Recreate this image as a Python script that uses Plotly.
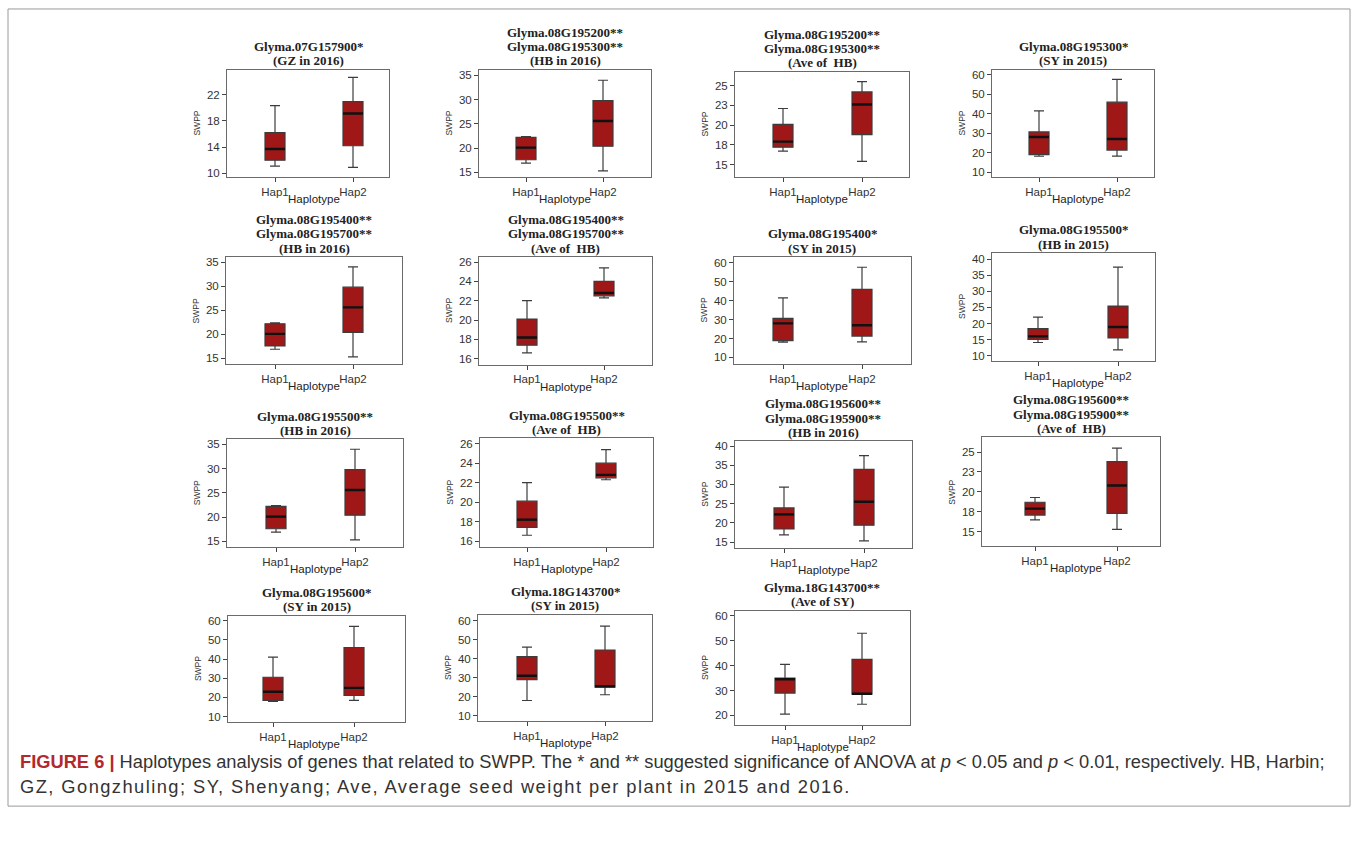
import plotly.graph_objects as go

W, H = 1358, 841

CATEGORIES = ["Hap1", "Hap2"]

TITLES = [
    ["Glyma.07G157900*", "(GZ in 2016)"],
    ["Glyma.08G195200**", "Glyma.08G195300**", "(HB in 2016)"],
    ["Glyma.08G195200**", "Glyma.08G195300**", "(Ave of  HB)"],
    ["Glyma.08G195300*", "(SY in 2015)"],
    ["Glyma.08G195400**", "Glyma.08G195700**", "(HB in 2016)"],
    ["Glyma.08G195400**", "Glyma.08G195700**", "(Ave of  HB)"],
    ["Glyma.08G195400*", "(SY in 2015)"],
    ["Glyma.08G195500*", "(HB in 2015)"],
    ["Glyma.08G195500**", "(HB in 2016)"],
    ["Glyma.08G195500**", "(Ave of  HB)"],
    ["Glyma.08G195600**", "Glyma.08G195900**", "(HB in 2016)"],
    ["Glyma.08G195600**", "Glyma.08G195900**", "(Ave of  HB)"],
    ["Glyma.08G195600*", "(SY in 2015)"],
    ["Glyma.18G143700*", "(SY in 2015)"],
    ["Glyma.18G143700**", "(Ave of SY)"],
]

# Five-number summaries of SWPP for each haplotype (whisker low, Q1, median, Q3, whisker high)
HAP1_LOW = [11.1, 16.9, 16.7, 18.1, 16.9, 16.6, 18.1, 14.1, 16.9, 16.6, 16.9, 16.5, 18.0, 18.0, 20.5]
HAP1_Q1 = [12.0, 17.6, 17.2, 18.9, 17.6, 17.4, 18.9, 15.1, 17.6, 17.4, 18.4, 17.1, 18.5, 29.0, 29.0]
HAP1_MED = [13.7, 20.1, 17.9, 28.0, 20.1, 18.2, 28.0, 16.0, 20.1, 18.2, 22.2, 17.9, 23.0, 31.0, 34.5]
HAP1_Q3 = [16.2, 22.2, 20.1, 30.6, 22.2, 20.1, 30.6, 18.4, 22.2, 20.1, 23.9, 18.7, 30.5, 41.0, 35.0]
HAP1_HIGH = [20.3, 22.4, 22.1, 41.4, 22.4, 22.0, 41.4, 22.0, 22.4, 22.0, 29.3, 19.3, 41.0, 46.0, 40.5]

HAP2_LOW = [10.9, 15.3, 15.4, 18.2, 15.3, 22.3, 18.2, 11.8, 15.3, 22.3, 15.3, 15.3, 18.5, 21.0, 24.5]
HAP2_Q1 = [14.2, 20.4, 18.8, 21.3, 20.4, 22.5, 21.3, 15.5, 20.4, 22.5, 19.4, 17.3, 21.0, 25.0, 28.5]
HAP2_MED = [19.1, 25.6, 22.6, 27.0, 25.6, 22.8, 27.0, 18.9, 25.6, 22.8, 25.5, 20.8, 25.0, 25.5, 28.7]
HAP2_Q3 = [20.9, 29.8, 24.2, 45.9, 29.8, 24.0, 45.9, 25.4, 29.8, 24.0, 33.9, 23.8, 46.0, 44.5, 42.5]
HAP2_HIGH = [24.6, 34.0, 25.5, 57.6, 34.0, 25.4, 57.6, 37.5, 34.0, 25.4, 37.5, 25.5, 57.0, 57.0, 53.0]

# y-axis ticks; the "Ave of HB" scales step by 2.5 and are printed rounded
Y_TICKS = {
    "gz": ([10, 14, 18, 22], ["10", "14", "18", "22"]),
    "hb16": ([15, 20, 25, 30, 35], ["15", "20", "25", "30", "35"]),
    "avehb": ([15, 17.5, 20, 22.5, 25], ["15", "18", "20", "23", "25"]),
    "sy": ([10, 20, 30, 40, 50, 60], ["10", "20", "30", "40", "50", "60"]),
    "avehb2": ([16, 18, 20, 22, 24, 26], ["16", "18", "20", "22", "24", "26"]),
    "hb15": ([10, 15, 20, 25, 30, 35, 40], ["10", "15", "20", "25", "30", "35", "40"]),
    "hb16b": ([15, 20, 25, 30, 35, 40], ["15", "20", "25", "30", "35", "40"]),
    "avesy": ([20, 30, 40, 50, 60], ["20", "30", "40", "50", "60"]),
}
PANEL_TICKS = ["gz", "hb16", "avehb", "sy", "hb16", "avehb2", "sy", "hb15",
               "hb16", "avehb2", "hb16b", "avehb", "sy", "sy", "avesy"]
Y_RANGES = [(9.39, 25.76), (13.97, 36.17), (13.37, 26.76), (7.25, 62.6),
            (13.9, 36.04), (15.38, 26.51), (6.7, 62.96), (8.45, 41.86),
            (13.83, 36.03), (15.39, 26.54), (13.45, 41.2), (13.21, 26.83),
            (7.0, 62.5), (7.0, 63.0), (16.0, 62.0)]

# Plot-area frames in pixels: left, top, right, bottom ; and category centres
FRAMES = [(227, 69, 389, 177), (479, 69, 651, 177), (735, 71, 909, 177), (992, 69, 1154, 177),
          (226, 257, 402, 364), (479, 257, 652, 365), (734, 257, 911, 364), (992, 253, 1155, 361),
          (227, 440, 403, 548), (480, 439, 653, 548), (735, 442, 912, 549), (982, 438, 1160, 547),
          (228, 617, 405, 724), (478, 616, 652, 723), (735, 612, 910, 727)]
CENTERS = [(275, 353), (526, 603), (783, 862), (1039, 1117),
           (275, 353), (527, 604), (783, 862), (1038, 1118),
           (276, 355), (527, 606), (784, 864), (1035, 1117),
           (273, 354), (527, 605), (785, 862)]
BOX_PX = 20
TITLE_LINE_PX = 14.3

FILL = "#a01717"
EDGE = "#3c3c3c"
FONT = "Liberation Sans"
SERIF = "Liberation Serif"

fig = go.Figure()
annotations = []

for i in range(15):
    n = i + 1
    xa, ya = ("x" if n == 1 else f"x{n}"), ("y" if n == 1 else f"y{n}")
    left, top, right, bottom = FRAMES[i]
    c1, c2 = CENTERS[i]
    ppu = c2 - c1
    xmin = 1 - (c1 - left) / ppu
    xmax = 2 + (right - c2) / ppu
    bw = BOX_PX / ppu

    stats = [
        (HAP1_LOW[i], HAP1_Q1[i], HAP1_MED[i], HAP1_Q3[i], HAP1_HIGH[i]),
        (HAP2_LOW[i], HAP2_Q1[i], HAP2_MED[i], HAP2_Q3[i], HAP2_HIGH[i]),
    ]
    for k, (lo, q1, med, q3, hi) in enumerate(stats):
        xpos = k + 1
        fig.add_trace(go.Box(
            x=[xpos], q1=[q1], median=[med], q3=[q3],
            lowerfence=[lo], upperfence=[hi],
            width=bw, whiskerwidth=0.5, boxpoints=False,
            fillcolor=FILL, line=dict(color=EDGE, width=1.2),
            xaxis=xa, yaxis=ya, showlegend=False, hoverinfo="skip",
        ))
        fig.add_trace(go.Scatter(
            x=[xpos - bw / 2, xpos + bw / 2], y=[med, med], mode="lines",
            line=dict(color="#111111", width=2.4),
            xaxis=xa, yaxis=ya, showlegend=False, hoverinfo="skip",
        ))

    tv, tt = Y_TICKS[PANEL_TICKS[i]]
    xd = [left / W, right / W]
    yd = [1 - bottom / H, 1 - top / H]
    axis_common = dict(showline=True, mirror=True, linecolor="#6a6a6a", linewidth=1,
                       showgrid=False, zeroline=False, ticks="outside", ticklen=4,
                       tickcolor="#444444", tickfont=dict(family=FONT, size=11.5, color="#333333"))
    fig.update_layout(**{
        ("xaxis" if n == 1 else f"xaxis{n}"): dict(
            domain=xd, range=[xmin, xmax], tickvals=[1, 2], ticktext=CATEGORIES,
            anchor=ya, fixedrange=True, **axis_common),
        ("yaxis" if n == 1 else f"yaxis{n}"): dict(
            domain=yd, range=list(Y_RANGES[i]), tickvals=tv, ticktext=tt,
            anchor=xa, fixedrange=True, **axis_common),
    })

    # title lines stacked upward from just above the frame
    cx = (left + right) / 2
    lines = TITLES[i]
    for j, line in enumerate(lines):
        ypx = top - 9 - (len(lines) - 1 - j) * TITLE_LINE_PX
        annotations.append(dict(
            text="<b>" + line + "</b>", x=cx / W, y=1 - ypx / H,
            xref="paper", yref="paper", xanchor="center", yanchor="middle",
            showarrow=False, font=dict(family=SERIF, size=13, color="#222222"),
        ))
    annotations.append(dict(
        text="Haplotype", x=((c1 + c2) / 2) / W, y=1 - (bottom + 22) / H,
        xref="paper", yref="paper", xanchor="center", yanchor="middle",
        showarrow=False, font=dict(family=FONT, size=11.5, color="#222222"),
    ))
    annotations.append(dict(
        text="SWPP", x=(left - 30) / W, y=1 - (top + bottom) / 2 / H,
        xref="paper", yref="paper", xanchor="center", yanchor="middle",
        textangle=-90, showarrow=False, font=dict(family=FONT, size=8.5, color="#333333"),
    ))

CAPTION_1 = ("<b><span style='color:#b3282d'>FIGURE 6 |</span></b> Haplotypes analysis of genes that related to SWPP. "
             "The * and ** suggested significance of ANOVA at <i>p</i> &lt; 0.05 and <i>p</i> &lt; 0.01, respectively. "
             "HB, Harbin;")
CAPTION_2 = ("<span style='letter-spacing:1.45px'>GZ, Gongzhuling; SY, Shenyang; Ave, "
             "Average seed weight per plant in 2015 and 2016.</span>")
for txt, ypx in [(CAPTION_1, 763), (CAPTION_2, 788)]:
    annotations.append(dict(
        text=txt, x=18 / W, y=1 - ypx / H, xref="paper", yref="paper",
        xanchor="left", yanchor="middle", showarrow=False,
        font=dict(family=FONT, size=18.3, color="#333333"),
    ))

fig.update_layout(
    width=W, height=H, margin=dict(l=0, r=0, t=0, b=0),
    paper_bgcolor="white", plot_bgcolor="white",
    annotations=annotations,
    shapes=[dict(type="rect", xref="paper", yref="paper",
                 x0=8 / W, x1=1350 / W, y0=1 - 808 / H, y1=1 - 8 / H,
                 line=dict(color="#9a9a9a", width=1))],
)

fig.write_html("out.html")
